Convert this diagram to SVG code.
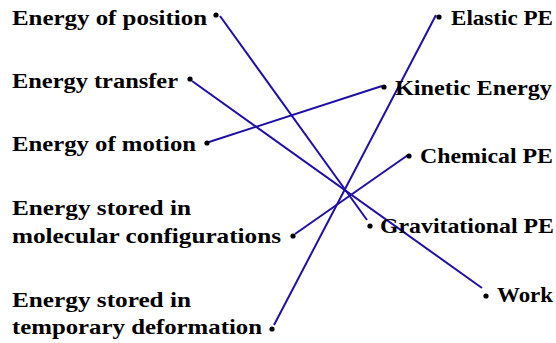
<svg xmlns="http://www.w3.org/2000/svg" width="556" height="343" viewBox="0 0 556 343">
<style>
text{font-family:"Liberation Serif","DejaVu Serif",serif;font-size:21px;font-weight:bold;fill:#000}
.dot{fill:#000}
.c line{stroke:#1f0fa8;stroke-width:2;fill:none}
</style>
<rect width="556" height="343" fill="#fff"/>
<g id="connectors" class="c">
<line x1="220" y1="16" x2="367" y2="220"/>
<line x1="192" y1="81" x2="482" y2="288"/>
<line x1="209" y1="142" x2="382" y2="86"/>
<line x1="295" y1="234" x2="408" y2="155"/>
<line x1="274" y1="325" x2="436" y2="15"/>
</g>
<g id="l1"><text x="12" y="25" textLength="195" lengthAdjust="spacingAndGlyphs">Energy of position</text><circle class="dot" cx="216" cy="15" r="2.6"/></g>
<g id="l2"><text x="12" y="88" textLength="166" lengthAdjust="spacingAndGlyphs">Energy transfer</text><circle class="dot" cx="190" cy="79" r="2.6"/></g>
<g id="l3"><text x="12" y="151" textLength="184" lengthAdjust="spacingAndGlyphs">Energy of motion</text><circle class="dot" cx="207" cy="143" r="2.6"/></g>
<g id="l4"><text x="12" y="215" textLength="179" lengthAdjust="spacingAndGlyphs">Energy stored in</text><text x="12" y="243" textLength="269" lengthAdjust="spacingAndGlyphs">molecular configurations</text><circle class="dot" cx="293" cy="236" r="2.6"/></g>
<g id="l5"><text x="12" y="307" textLength="179" lengthAdjust="spacingAndGlyphs">Energy stored in</text><text x="12" y="334" textLength="250" lengthAdjust="spacingAndGlyphs">temporary deformation</text><circle class="dot" cx="272" cy="329" r="2.6"/></g>
<g id="r1"><circle class="dot" cx="439" cy="17" r="2.6"/><text x="451" y="25" textLength="102" lengthAdjust="spacingAndGlyphs">Elastic PE</text></g>
<g id="r2"><circle class="dot" cx="384" cy="87" r="2.6"/><text x="395" y="95" textLength="157" lengthAdjust="spacingAndGlyphs">Kinetic Energy</text></g>
<g id="r3"><circle class="dot" cx="409" cy="156" r="2.6"/><text x="420" y="163" textLength="133" lengthAdjust="spacingAndGlyphs">Chemical PE</text></g>
<g id="r4"><circle class="dot" cx="370" cy="226" r="2.6"/><text x="380" y="233" textLength="174" lengthAdjust="spacingAndGlyphs">Gravitational PE</text></g>
<g id="r5"><circle class="dot" cx="486" cy="296" r="2.6"/><text x="497" y="302" textLength="56" lengthAdjust="spacingAndGlyphs">Work</text></g>
</svg>
